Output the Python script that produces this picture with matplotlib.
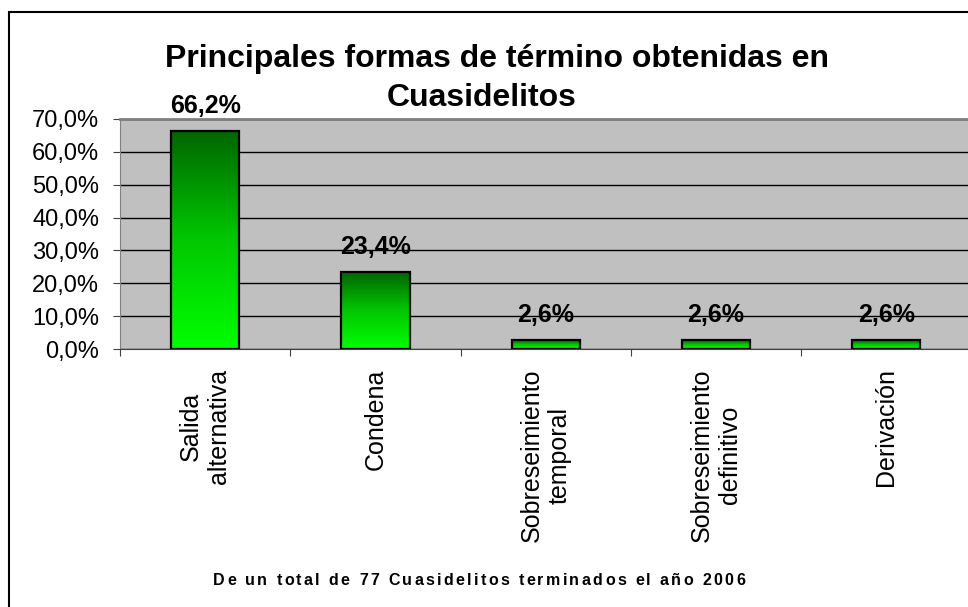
import numpy as np
import matplotlib.pyplot as plt
from matplotlib.colors import LinearSegmentedColormap
from matplotlib.patches import Rectangle

plt.rcParams['font.family'] = ['Liberation Sans', 'DejaVu Sans']

# datos
categorias = ['Salida\nalternativa', 'Condena', 'Sobreseimiento\ntemporal',
              'Sobreseimiento\ndefinitivo', 'Derivación']
porcentajes = [66.2, 23.4, 2.6, 2.6, 2.6]
etiquetas = ['66,2%', '23,4%', '2,6%', '2,6%', '2,6%']
ticks_y = [0, 10, 20, 30, 40, 50, 60, 70]
ticks_y_txt = ['0,0%', '10,0%', '20,0%', '30,0%', '40,0%', '50,0%', '60,0%', '70,0%']

titulo_1 = 'Principales formas de término obtenidas en'
titulo_2 = 'Cuasidelitos'
nota = 'De un total de 77 Cuasidelitos terminados el año 2006'

W, H = 968, 607
fig = plt.figure(figsize=(W / 100, H / 100), dpi=100)
ax = fig.add_axes([120 / W, 1 - 349 / H, 851.5 / W, 230 / H])

verde = LinearSegmentedColormap.from_list('verde', ['#00ff00', '#00c800', '#006600'])
grad = np.linspace(0, 1, 256).reshape(-1, 1)
ancho = 0.4
for i, v in enumerate(porcentajes):
    ax.imshow(grad, cmap=verde, origin='lower', aspect='auto', zorder=2,
              extent=(i - ancho / 2, i + ancho / 2, 0, v), interpolation='bilinear')
    ax.add_patch(Rectangle((i - ancho / 2, 0), ancho, v, fill=False,
                           ec='black', lw=1.6, zorder=3))
    ax.annotate(etiquetas[i], (i, v), xytext=(0, 13), textcoords='offset points',
                ha='center', va='baseline', fontsize=18, fontweight='bold', zorder=4)

ax.set_xlim(-0.5, 4.5)
ax.set_ylim(0, 70)
ax.set_facecolor('#c0c0c0')
ax.set_yticks(ticks_y, ticks_y_txt)
ax.yaxis.grid(True, color='black', lw=1)
ax.set_axisbelow(True)

ax.set_xticks(np.arange(-0.5, 5, 1))
ax.set_xticklabels([])
ax.set_xticks(range(5), minor=True)
ax.set_xticklabels(categorias, minor=True, rotation=90, va='top', ha='center',
                   multialignment='center', fontsize=18)
ax.tick_params(axis='x', which='minor', length=0, pad=14)
ax.tick_params(axis='x', which='major', length=5, color='#404040')
ax.tick_params(axis='y', length=5, labelsize=17, pad=10, color='#404040')

ax.spines['top'].set_color('#808080')
ax.spines['top'].set_linewidth(2)
ax.spines['left'].set_color('#808080')
ax.spines['bottom'].set_color('#404040')
ax.spines['right'].set_visible(False)

# marco exterior del grafico
fig.add_artist(Rectangle((8.5 / W, -0.05), 1.2, 1 - 11.5 / H + 0.05,
                         transform=fig.transFigure, fill=False, ec='black', lw=1.5))

fig.text(497 / W, 1 - 67 / H, titulo_1, ha='center', va='baseline',
         fontsize=23, fontweight='bold')
fig.text(482 / W, 1 - 106 / H, titulo_2, ha='center', va='baseline',
         fontsize=23, fontweight='bold')

# nota al pie con letras espaciadas
r = fig.canvas.get_renderer()
kw = dict(fontsize=11.5, fontweight='bold')


def ancho_px(s):
    t = fig.text(0, 0, s, **kw)
    w = t.get_window_extent(r).width
    t.remove()
    return w


base = ancho_px('||')
anchos = [ancho_px('|' + c + '|') - base for c in nota]
x0, x1 = 213, 745
hueco = (x1 - x0 - sum(anchos)) / (len(nota) - 1)
x = x0
for c, w in zip(nota, anchos):
    fig.text(x / W, 1 - 585 / H, c, ha='left', va='baseline', **kw)
    x += w + hueco

fig.savefig('out.png', dpi=100)
